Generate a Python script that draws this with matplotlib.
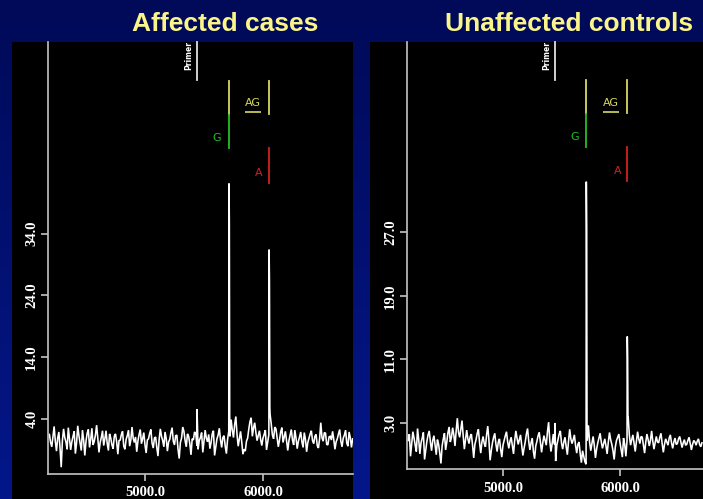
import numpy as np
import matplotlib
matplotlib.use("Agg")
import matplotlib.pyplot as plt
from matplotlib.patches import Rectangle
from matplotlib.colors import LinearSegmentedColormap
import matplotlib.transforms as mtransforms

# ---------------- data ----------------
titles = ["Affected cases", "Unaffected controls"]

mass_start = 4190
mass_step = 10

left_noise = [
    1.5, 0.2, -0.5, 1.1, 2.8, 0.4, -1.2, 0.9, 1.9, -0.7, -3.8, 0.5, 2.4, 1.0, 0.3, -0.9,
    2.6, 0.8, -1.0, 0.3, 1.2, 2.0, -1.6, 0.1, 2.9, 1.3, 0.1, -1.1, 2.2, 0.6, -1.9, 0.4,
    1.7, 2.3, -0.6, 0.7, 2.5, -0.2, 0.4, 1.4, 3.0, 0.9, -1.4, 0.2, 1.0, 2.1, -0.3, 0.8,
    2.1, 0.0, -1.1, 1.6, 0.9, -0.2, -0.8, 1.2, 1.6, 0.3, -1.7, 0.5, 0.6, 1.5, 2.0, -0.4,
    -0.9, 0.7, 1.3, 2.2, -0.4, 0.6, 2.7, 0.9, 0.2, 1.1, -1.3, 0.4, 1.5, 2.3, 0.0, 0.8,
    1.8, -0.2, -1.5, 0.6, 0.8, 1.7, 2.3, 0.1, -0.7, 0.9, 1.1, -0.6, -2.0, 0.7, 2.4, 1.2,
    0.5, -0.5, 1.9, 0.8, -1.2, 0.3, 0.7, 1.8, 2.6, 0.4, -0.2, 1.3, 1.4, -0.9, -2.4, 0.2,
    0.9, 2.7, 2.0, 0.5, -0.5, 1.6, 1.2, 0.0, -1.8, 0.8, 0.6, 1.9, 1.7, -0.3, -0.9, 0.5,
    1.0, 1.8, -1.4, 0.4, 2.2, 0.9, 0.3, 1.5, -0.8, 0.2, 1.6, 2.1, -1.9, -0.5, 0.8, 1.4,
    2.5, 0.6, -0.6, 1.0, 1.3, -0.4, -1.6, 0.7, 2.0, 1.2, 3.9, 2.2, 1.0, 3.1, 4.4, 1.5,
    -0.4, 0.8, 2.0, 0.3, -1.7, -0.9, -1.2, 0.4, 0.9, 2.4, 3.6, 4.2, 1.2, 2.6, 3.4, 1.8,
    0.5, 1.3, 2.1, 0.7, -0.3, 0.9, 1.5, 2.2, -1.0, 0.3, 1.5, 4.8, 3.2, 1.4, 0.8, 2.7,
    2.4, 1.0, -0.5, 0.6, 1.9, 2.6, 0.2, 1.1, 2.0, 0.4, -1.1, 0.5, 1.4, 2.3, 0.6, -0.2,
    2.2, 0.9, -0.8, 0.4, 1.1, 1.9, 0.3, -0.6, 1.8, 0.7, -1.3, 0.2, 0.9, 1.6, 2.1, 0.5,
    0.0, 1.2, 1.5, -0.3, -0.7, 0.8, 3.4, 1.0, 0.4, 1.8, 1.7, -0.1, -0.2, 1.1, 1.2, 0.6,
    2.0, 0.7, -0.9, 0.3, 0.8, 1.6, 2.3, 0.4, -0.5, 0.9, 1.4, 2.2, 0.1, -0.4, 1.9, 1.0,
    -0.6, 0.8]

right_noise = [
    0.8, 1.6, -1.2, 0.3, 1.9, 1.1, 0.2, -0.6, 2.3, 0.9, -0.9, 0.5, 1.1, 1.8, -1.6, -0.4,
    0.7, 1.5, 2.0, 0.6, -0.5, 0.8, 1.4, 0.2, -1.0, 0.9, 0.3, -0.8, -2.1, 0.1, 1.0, 1.7,
    -0.4, 0.6, 1.8, 2.5, 0.6, 1.2, 2.4, 1.5, 0.1, 2.0, 3.6, 1.8, 1.2, 2.2, 3.3, 1.4,
    -0.3, 0.9, 2.1, 1.0, 0.4, 1.3, 1.6, 0.2, -1.4, 0.3, 0.9, 1.7, 2.2, 0.5, -0.8, 0.6,
    1.3, 0.4, 0.0, 1.5, 2.6, 0.8, -1.7, -0.5, 0.5, 1.2, 1.7, 0.3, -0.6, 0.6, 1.0, -0.3,
    -1.3, 0.2, 0.8, 1.4, 1.9, 0.6, -0.2, 0.7, 1.2, 0.1, -0.9, 0.8, 2.0, 1.1, 0.3, 0.9,
    1.5, 0.2, -1.1, -0.2, 0.6, 1.6, 2.3, 0.7, -0.4, 0.5, 1.1, -0.6, -1.5, 0.1, 0.7, 1.4,
    1.8, 0.6, -0.7, 0.5, 1.4, 0.8, 0.2, 1.9, 3.1, 0.7, -0.6, 0.4, 1.6, 0.3, -1.8, 0.2,
    0.9, 1.6, 2.0, 0.5, -0.3, 0.6, 1.2, 0.0, -1.0, 0.7, 2.2, 1.0, 0.4, 0.9, 1.5, 0.2,
    -0.8, 0.3, 0.6, -0.9, -2.0, -0.5, -1.2, -1.9, -2.2, 0.8, 2.7, 0.6, -0.5, 0.4, 1.3, 0.2,
    -1.4, -0.3, 0.5, 1.1, 1.7, 0.6, -0.2, 0.4, 1.0, 0.1, -0.9, 0.6, 1.8, 0.9, 0.3, -0.5,
    -1.6, 0.0, 0.8, 1.2, 1.6, 0.5, -0.4, -1.3, 1.1, 0.3, -1.2, 0.8, 3.7, 1.4, 0.2, 0.9,
    1.5, 0.4, -0.6, 0.7, 1.9, 1.0, 0.4, 1.3, 1.2, 0.2, -0.8, 0.6, 1.6, 0.9, 0.1, 0.8,
    2.0, 0.7, -0.3, 0.5, 1.3, 0.6, 0.5, 1.2, 1.7, 0.4, -0.7, 0.3, 1.0, 0.6, 0.2, 1.1,
    1.5, 0.5, -0.2, 0.6, 1.1, 0.3, 0.4, 1.0, 1.3, 0.6, -0.1, 0.5, 0.9, 0.2, 0.3, 0.8,
    1.2, 0.4, -0.4, 0.3, 0.8, 0.6, 0.2, 0.7, 1.0, 0.3, 0.0, 0.5]

left_peak_mass = [5441, 5712, 5715, 5718, 6052, 6055, 6058]
left_peak_int = [5.6, 42.1, 35.8, 4.0, 31.4, 26.1, 6.0]
right_peak_mass = [5444, 5712, 5715, 5718, 6062, 6065, 6068]
right_peak_int = [3.0, 33.4, 27.4, 2.7, 13.9, 11.3, 3.7]

left_xlim = (4178, 6763)
left_ylim = (-4.9, 65.0)
right_xlim = (4180, 6709)
right_ylim = (-2.8, 51.0)

x_ticks = [5000, 6000]
left_yticks = [4, 14, 24, 34]
right_yticks = [3, 11, 19, 27]

left_marks = {"Primer": 5441, "G": 5712, "A": 6052}
right_marks = {"Primer": 5444, "G": 5712, "A": 6062}

# ---------------- figure ----------------
W, H = 703, 499
fig = plt.figure(figsize=(W / 100, H / 100), dpi=100)

bg = fig.add_axes([0, 0, 1, 1], zorder=-10)
grad = np.linspace(0, 1, 256).reshape(-1, 1)
cmap = LinearSegmentedColormap.from_list("bg", ["#000a58", "#04178a"])
bg.imshow(grad, aspect="auto", cmap=cmap, extent=[0, 1, 0, 1], origin="upper")
bg.set_axis_off()


def px_rect(x0, y0, x1, y1):
    return [x0 / W, (H - y1) / H, (x1 - x0) / W, (y1 - y0) / H]


for (x0, x1) in [(12, 353), (370, 703)]:
    r = px_rect(x0, 42, x1, 499)
    fig.patches.append(Rectangle((r[0], r[1]), r[2], r[3], transform=fig.transFigure,
                                 facecolor="black", edgecolor="none", zorder=-5))

title_color = "#fbf489"
fig.text(225.5 / W, (H - 31) / H, titles[0], color=title_color, fontsize=19,
         fontweight="bold", family="Liberation Sans", ha="center", va="baseline")
fig.text(569 / W, (H - 31) / H, titles[1], color=title_color, fontsize=19,
         fontweight="bold", family="Liberation Sans", ha="center", va="baseline")

panels = [
    dict(rect=px_rect(48, 42, 353, 474), noise=left_noise, pm=left_peak_mass, pi=left_peak_int,
         xlim=left_xlim, ylim=left_ylim, yticks=left_yticks, marks=left_marks),
    dict(rect=px_rect(407, 42, 703, 469), noise=right_noise, pm=right_peak_mass, pi=right_peak_int,
         xlim=right_xlim, ylim=right_ylim, yticks=right_yticks, marks=right_marks),
]

axis_gray = "#c4c4c4"
yellow = "#d8d860"
green = "#22c022"
red = "#d42020"

for p in panels:
    ax = fig.add_axes(p["rect"])
    ax.set_facecolor("none")
    noise = np.array(p["noise"], dtype=float)
    nm = mass_start + mass_step * np.arange(len(noise))
    m = np.concatenate([nm, np.array(p["pm"], dtype=float)])
    v = np.concatenate([noise, np.array(p["pi"], dtype=float)])
    order = np.argsort(m, kind="stable")
    ax.plot(m[order], v[order], color="white", lw=1.15, solid_joinstyle="miter")
    ax.set_xlim(*p["xlim"])
    ax.set_ylim(*p["ylim"])
    for s in ["top", "right"]:
        ax.spines[s].set_visible(False)
    for s in ["left", "bottom"]:
        ax.spines[s].set_color(axis_gray)
        ax.spines[s].set_linewidth(1.2)
    ax.set_xticks(x_ticks)
    ax.set_xticklabels([f"{t:.1f}" for t in x_ticks])
    ax.set_yticks(p["yticks"])
    ax.set_yticklabels([f"{t:.1f}" for t in p["yticks"]], rotation=90, va="center")
    ax.tick_params(colors=axis_gray, labelcolor="white", length=5, width=1.2,
                   labelsize=10.5)
    ax.tick_params(axis="x", pad=4)
    ax.tick_params(axis="y", pad=2)
    for lab in ax.get_xticklabels() + ax.get_yticklabels():
        lab.set_fontfamily("Liberation Serif")
        lab.set_fontweight("bold")

    tr = mtransforms.blended_transform_factory(ax.transData, ax.transAxes)
    mk = p["marks"]
    # primer
    ax.plot([mk["Primer"]] * 2, [0.912, 1.0], transform=tr, color="#e0e0e0", lw=1.3,
            clip_on=False)
    ax.annotate("Primer", xy=(mk["Primer"], 0.968), xycoords=tr, xytext=(-8, 0),
                textcoords="offset pixels", rotation=90, color="white", fontsize=5.5,
                fontweight="bold", ha="center", va="center", family="DejaVu Sans")
    # G line (yellow top, green bottom)
    ax.plot([mk["G"]] * 2, [0.831, 0.910], transform=tr, color=yellow, lw=1.3)
    ax.plot([mk["G"]] * 2, [0.755, 0.831], transform=tr, color=green, lw=1.3)
    ax.annotate("G", xy=(mk["G"], 0.777), xycoords=tr, xytext=(-12, 0),
                textcoords="offset pixels", color=green, fontsize=8, ha="center",
                va="center")
    # AG line
    ax.plot([mk["A"]] * 2, [0.834, 0.910], transform=tr, color=yellow, lw=1.3)
    ax.annotate("AG", xy=(mk["A"], 0.858), xycoords=tr, xytext=(-16, 0),
                textcoords="offset pixels", color=yellow, fontsize=8, ha="center",
                va="center")
    ul_tr = mtransforms.offset_copy(tr, fig=fig, x=-16, y=0, units="dots")
    ax.plot([mk["A"]], [0.837], transform=ul_tr, marker="_", markersize=11,
            markeredgewidth=1.2, color=yellow, linestyle="none")
    # A line
    ax.plot([mk["A"]] * 2, [0.674, 0.755], transform=tr, color=red, lw=1.3)
    ax.annotate("A", xy=(mk["A"], 0.697), xycoords=tr, xytext=(-10, 0),
                textcoords="offset pixels", color=red, fontsize=8, ha="center",
                va="center")

fig.savefig("out.png", dpi=100, facecolor=fig.get_facecolor())
